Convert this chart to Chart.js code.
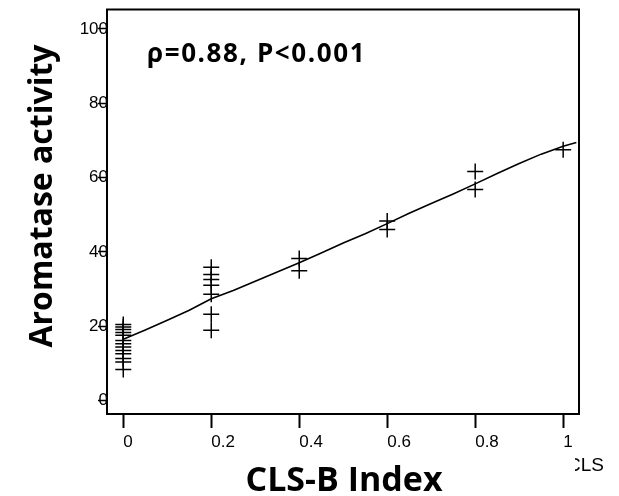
<!DOCTYPE html>
<html>
<head>
<meta charset="utf-8">
<script src="https://cdn.jsdelivr.net/npm/chart.js@4"></script>
<style>
html,body{margin:0;padding:0;background:#fff;}
#wrap{width:619px;height:496px;position:relative;}
</style>
</head>
<body>
<div id="wrap"><canvas id="c" width="619" height="496"></canvas></div>
<script>
// CLS-B index of each observation
const clsIndex = [
  0,0,0,0,0,0,0,0,0,0,0,0,0,
  0.2,0.2,0.2,0.2,0.2,0.2,0.2,
  0.4,0.4,
  0.6,0.6,
  0.8,0.8,
  1.0
];
// Aromatase activity of each observation
const aromatase = [
  20.5,19.8,19.1,18.3,17.6,16.2,15.3,14.4,13.5,12.6,11.3,10.4,8.4,
  35.9,33.9,32.6,31.0,28.6,23.2,18.9,
  38.2,34.9,
  48.3,46.0,
  61.6,56.8,
  67.5
];
// fitted curve
const fitX = [0,0.05,0.1,0.15,0.2,0.25,0.3,0.35,0.4,0.45,0.5,0.55,0.6,0.65,0.7,0.75,0.8,0.85,0.9,0.95,1.0,1.03];
const fitY = [16.5,19.0,21.6,24.3,27.4,29.6,32.1,34.6,37.1,39.7,42.4,44.9,47.6,50.4,53.0,55.6,58.3,61.1,63.8,66.3,68.4,69.4];
const xTicks = [0,0.2,0.4,0.6,0.8,1];
const yTicks = [0,20,40,60,80,100];
const statText = 'ρ=0.88, P<0.001';
const xTitle = 'CLS-B Index';
const yTitle = 'Aromatase activity';

const scatterData = clsIndex.map((x,i)=>({x:x,y:aromatase[i]}));
const fitData = fitX.map((x,i)=>({x:x,y:fitY[i]}));

const overlay = {
  id:'overlay',
  afterDraw(chart){
    const ctx = chart.ctx, a = chart.chartArea;
    ctx.save();
    ctx.strokeStyle = '#000';
    ctx.lineWidth = 2;
    ctx.strokeRect(a.left, a.top, a.right-a.left, a.bottom-a.top);
    ctx.fillStyle = '#000';
    // stat text
    ctx.font = 'bold 26px "Open Sans"';
    ctx.textAlign = 'left';
    ctx.textBaseline = 'alphabetic';
    try { ctx.letterSpacing = '1.6px'; } catch(e) {}
    ctx.fillText(statText, 147, 62);
    try { ctx.letterSpacing = '0px'; } catch(e) {}
    // x title
    ctx.font = 'bold 34px "Open Sans"';
    ctx.textAlign = 'center';
    ctx.fillText(xTitle, 344, 491);
    // y title
    ctx.font = 'bold 32px "Open Sans"';
    ctx.save();
    ctx.translate(52, 196);
    ctx.rotate(-Math.PI/2);
    ctx.fillText(yTitle, 0, 0);
    ctx.restore();
    // clipped stray label at bottom-right
    ctx.save();
    ctx.beginPath();
    ctx.rect(575, 440, 44, 50);
    ctx.clip();
    ctx.font = '19px "Liberation Sans"';
    ctx.textAlign = 'left';
    ctx.fillText('CLS', 567, 471);
    ctx.restore();
    ctx.restore();
  }
};

new Chart(document.getElementById('c'), {
  type:'scatter',
  data:{
    datasets:[
      {
        type:'line',
        data:fitData,
        borderColor:'#000',
        borderWidth:1.6,
        pointRadius:0,
        fill:false,
        tension:0
      },
      {
        data:scatterData,
        pointStyle:'cross',
        pointRadius:8,
        pointHoverRadius:8,
        borderColor:'#000',
        backgroundColor:'#000',
        pointBorderWidth:1.5,
        borderWidth:1.5
      }
    ]
  },
  options:{
    responsive:false,
    animation:false,
    events:[],
    layout:{padding:{top:8,right:40,left:0,bottom:0}},
    plugins:{legend:{display:false},tooltip:{enabled:false}},
    scales:{
      x:{
        type:'linear',
        min:-0.037,
        max:1.036,
        afterFit(s){ s.height = 82; },
        afterBuildTicks(s){ s.ticks = xTicks.map(v=>({value:v})); },
        grid:{display:true,drawOnChartArea:false,drawTicks:true,tickLength:14,tickColor:'#000',tickWidth:2},
        border:{display:true,color:'#000',width:2},
        ticks:{
          align:'start',
          padding:4,
          color:'#000',
          font:{family:'"Liberation Sans"',size:17},
          callback:v=>String(v)
        }
      },
      y:{
        type:'linear',
        min:-3.6,
        max:105.2,
        afterFit(s){ s.width = 107; },
        afterBuildTicks(s){ s.ticks = yTicks.map(v=>({value:v})); },
        grid:{display:true,drawOnChartArea:false,drawTicks:true,tickLength:9,tickColor:'#000',tickWidth:1.5},
        border:{display:true,color:'#000',width:2},
        ticks:{
          padding:-10,
          color:'#000',
          font:{family:'"Liberation Sans"',size:17},
          callback:v=>String(v)
        }
      }
    }
  },
  plugins:[overlay]
});
</script>
</body>
</html>
